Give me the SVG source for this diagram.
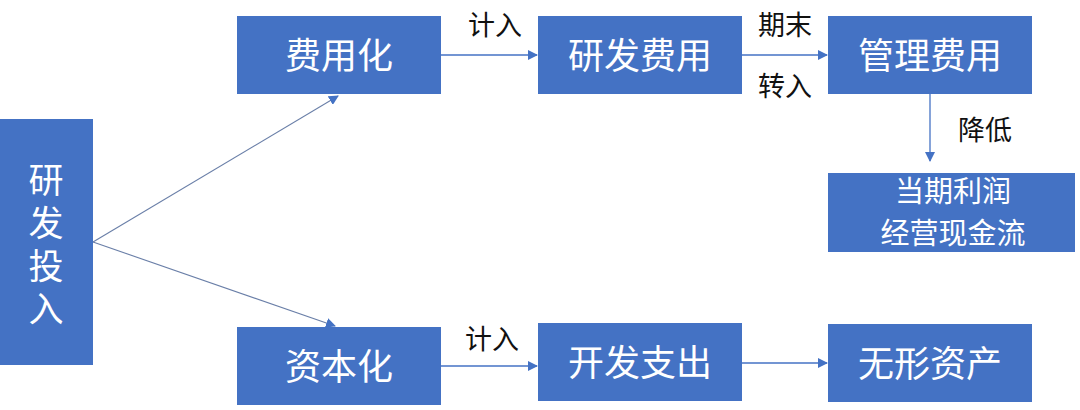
<svg xmlns="http://www.w3.org/2000/svg" width="1080" height="410" viewBox="0 0 1080 410">
<style>
.box{fill:#4472C4;}
.bt{font-family:"Noto Sans CJK SC","Noto Sans",sans-serif;font-size:36px;fill:#ffffff;text-anchor:middle;}
.bs{font-family:"Noto Sans CJK SC","Noto Sans",sans-serif;font-size:29px;fill:#ffffff;text-anchor:middle;}
.vt{font-family:"Noto Sans CJK SC","Noto Sans",sans-serif;font-size:35px;fill:#ffffff;writing-mode:vertical-rl;letter-spacing:8px;}
.lb{font-family:"Noto Sans CJK SC","Noto Sans",sans-serif;font-size:27px;fill:#111111;text-anchor:middle;}
.ln{stroke:#4472C4;stroke-width:1.3;fill:none;marker-end:url(#ah);}
.dg{stroke:#6a7fa8;stroke-width:1.1;fill:none;marker-end:url(#ah);}
</style>
<defs>
<marker id="ah" viewBox="0 0 10 10" refX="9" refY="5" markerWidth="10" markerHeight="10" markerUnits="userSpaceOnUse" orient="auto">
<path d="M0,0 L10,5 L0,10 z" fill="#4472C4"/>
</marker>
</defs>
<rect width="1080" height="410" fill="#ffffff"/>
<g id="connectors">
<line class="dg" x1="93" y1="242" x2="338" y2="96"/>
<line class="dg" x1="93" y1="242" x2="335" y2="326"/>
<line class="ln" x1="441" y1="55" x2="537" y2="55"/>
<line class="ln" x1="742" y1="55" x2="827" y2="55"/>
<line class="ln" x1="930" y1="94" x2="930" y2="161"/>
<line class="ln" x1="441" y1="366" x2="537" y2="366"/>
<line class="ln" x1="742" y1="363" x2="827" y2="363"/>
<text class="lb" x="495" y="35">计入</text>
<text class="lb" x="785" y="35">期末</text>
<text class="lb" x="785" y="96">转入</text>
<text class="lb" x="985" y="140">降低</text>
<text class="lb" x="492" y="349">计入</text>
</g>
<g id="n-rd">
<rect class="box" x="0" y="119" width="93" height="246"/>
<text class="vt" x="46" y="162">研发投入</text>
</g>
<g id="n-exp">
<rect class="box" x="237" y="16" width="204" height="78"/>
<text class="bt" x="339" y="69">费用化</text>
</g>
<g id="n-cap">
<rect class="box" x="237" y="327" width="204" height="78"/>
<text class="bt" x="339" y="380">资本化</text>
</g>
<g id="n-rdexp">
<rect class="box" x="538" y="16" width="204" height="78"/>
<text class="bt" x="640" y="69">研发费用</text>
</g>
<g id="n-dev">
<rect class="box" x="538" y="323" width="204" height="78"/>
<text class="bt" x="640" y="376">开发支出</text>
</g>
<g id="n-admin">
<rect class="box" x="828" y="16" width="204" height="78"/>
<text class="bt" x="930" y="69">管理费用</text>
</g>
<g id="n-profit">
<rect class="box" x="828" y="173" width="247" height="79"/>
<text class="bs" x="953"><tspan x="953" y="202">当期利润</tspan><tspan x="953" y="244">经营现金流</tspan></text>
</g>
<g id="n-intang">
<rect class="box" x="828" y="324" width="204" height="78"/>
<text class="bt" x="930" y="377">无形资产</text>
</g>
</svg>
